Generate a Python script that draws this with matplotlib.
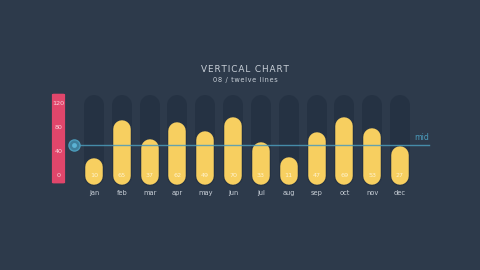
import matplotlib
matplotlib.use("Agg")
import matplotlib.pyplot as plt
from matplotlib.patches import FancyBboxPatch

months = ["jan", "feb", "mar", "apr", "may", "jun", "jul", "aug", "sep", "oct", "nov", "dec"]
values = [10, 65, 37, 62, 49, 70, 33, 11, 47, 69, 53, 27]
scale_ticks = [0, 40, 80, 120]
mid_value = 50
track_max = 100
title = "VERTICAL CHART"
subtitle = "08 / twelve lines"

BG = "#2d3a4b"
TRACK = "#253243"
BAR = "#f7cf60"
RED = "#e1466b"
BLUE = "#4b9bbb"
TXT = "#c9d0d8"

W, H, DPI = 480, 270, 100
fig = plt.figure(figsize=(W / DPI, H / DPI), dpi=DPI, facecolor=BG)

ax = fig.add_axes([0, 0, 1, 1])
ax.set_facecolor(BG)
px_per_idx = 306 / 11
x0 = -94 / px_per_idx
ax.set_xlim(x0, x0 + W / px_per_idx)
s = 0.69
y0 = -(270 - 173.9) / s
ax.set_ylim(y0, y0 + H / s)
ax.axis("off")

pt = 72 / DPI
base = -3
for i, (m, v) in enumerate(zip(months, values)):
    ax.plot([i, i], [base, track_max], color=TRACK, lw=20 * pt,
            solid_capstyle="round", zorder=1)
    ax.plot([i, i], [base, v], color=BAR, lw=17.5 * pt,
            solid_capstyle="round", zorder=2)
    ax.text(i, -3, str(v), color="#fff3cf", fontsize=4.6, ha="center",
            va="center", zorder=3, family="DejaVu Sans")
    ax.text(i, -28, m, color=TXT, fontsize=4.8, ha="center", va="center",
            family="DejaVu Sans")

sax = fig.add_axes([51 / W, (270 - 184) / H, 15 / W, 91 / H])
sax.set_xlim(0, 1)
sax.set_ylim(-15, 136.7)
sax.axis("off")
sax.add_patch(FancyBboxPatch((0.06, -14), 0.88, 149.5,
                             boxstyle="round,pad=0,rounding_size=0.15",
                             facecolor=RED, edgecolor="none",
                             mutation_aspect=8))
for t in scale_ticks:
    sax.text(0.5, t, str(t), color="#f8d3dc", fontsize=4.6, ha="center",
             va="center", family="DejaVu Sans")

ydisp = sax.transData.transform((0, mid_value))[1]
ymid = ax.transData.inverted().transform((0, ydisp))[1]
xl = ax.transData.inverted().transform((74, 0))[0]
xr = ax.transData.inverted().transform((429, 0))[0]
ax.plot([xl, xr], [ymid, ymid], color=BLUE, lw=1.0, zorder=4, alpha=0.85)
ax.plot([xl], [ymid], "o", ms=8, mfc="#3e7f9c", mec=BLUE, mew=1.0, zorder=5)
ax.plot([xl], [ymid], "o", ms=3.5, mfc="#5bb3d4", mec="none", zorder=6)
ax.text(xr, ymid + 5, "mid", color=BLUE, fontsize=5.6, ha="right",
        va="bottom", family="DejaVu Sans")

hair = "\u200a"
fig.text(245 / W, 1 - 70 / H, hair.join(title), color=TXT, fontsize=6.4,
         ha="center", va="center", family="DejaVu Sans")
fig.text(245 / W, 1 - 79.5 / H, hair.join(subtitle), color=TXT, fontsize=4.8,
         ha="center", va="center", family="DejaVu Sans")

fig.savefig("out.png", dpi=DPI, facecolor=BG)
